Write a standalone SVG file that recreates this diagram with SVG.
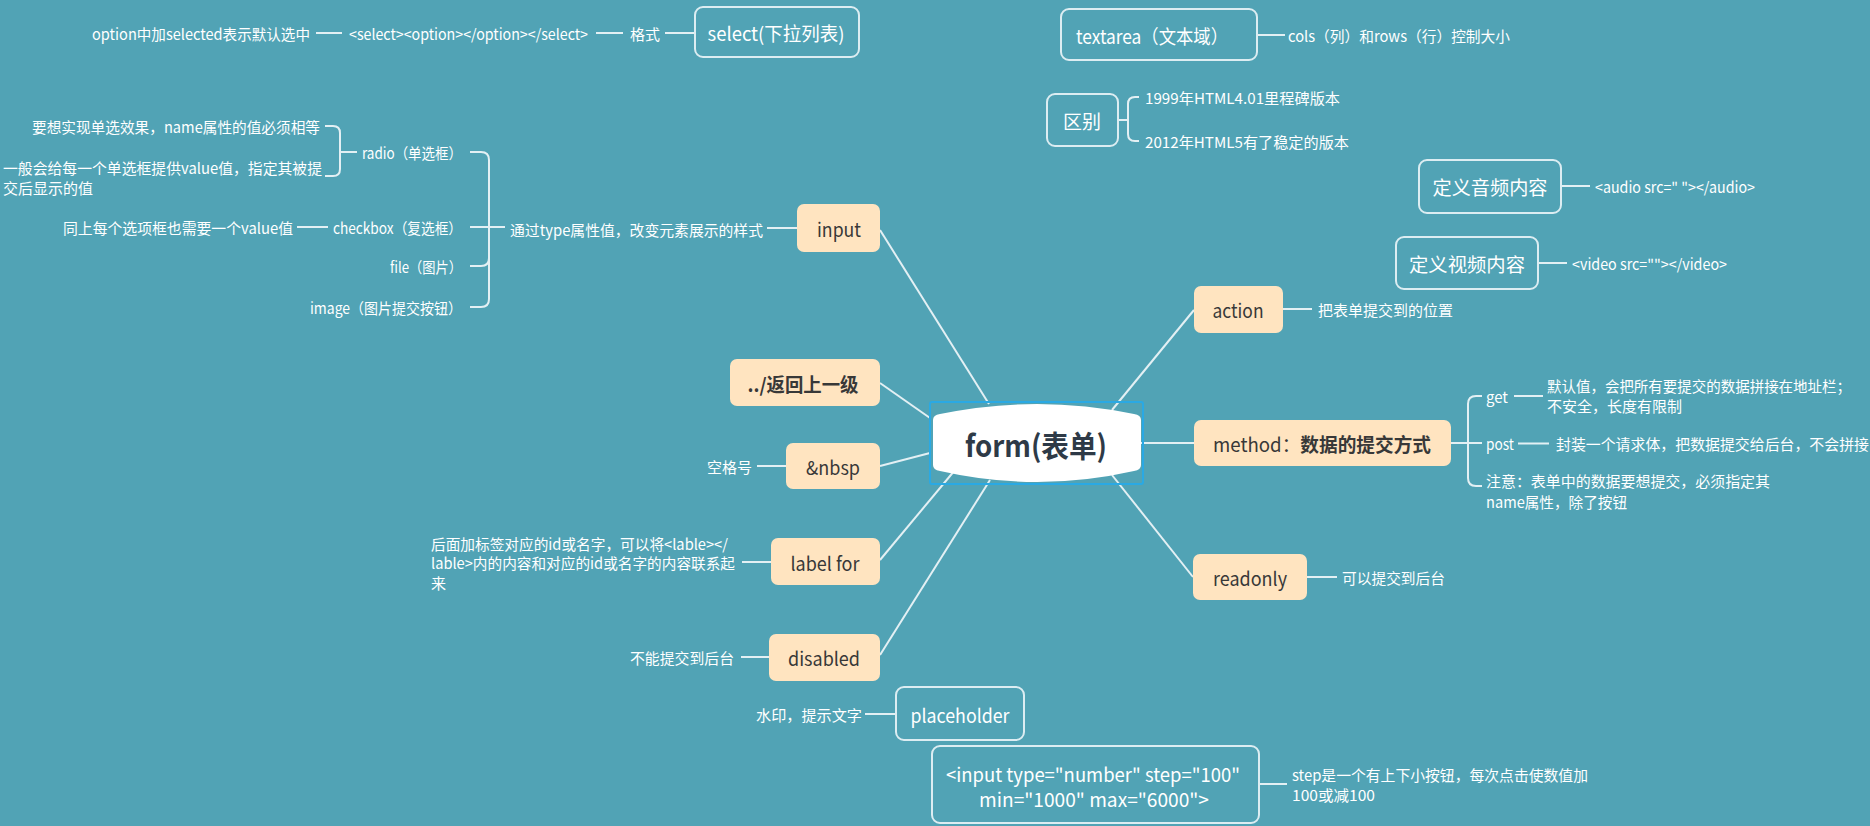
<svg xmlns="http://www.w3.org/2000/svg" width="1870" height="826" viewBox="0 0 1870 826">
<style>
text{font-family:"Noto Sans CJK SC","Noto Sans",sans-serif;dominant-baseline:central}
.lbl{font-size:15px;fill:#ffffff}
.nt{font-size:19px;fill:#383838}
.ot{font-size:19px;fill:#ffffff}
.fb{fill:#ffe4c0}
.ob{fill:none;stroke:#dcedf2;stroke-width:2}
.con{stroke:#e3f0f4;stroke-width:2;fill:none}
</style>
<rect width="1870" height="826" fill="#51a3b5"/>
<g id="connectors" class="con">
<path d="M989,404 L880,230"/>
<path d="M930,418 L880,383"/>
<path d="M930,453 L880,466"/>
<path d="M955,470 L880,560"/>
<path d="M990,480 L880,655"/>
<path d="M1112,410 L1194,310"/>
<path d="M1141,443 L1194,443"/>
<path d="M1112,475 L1193,577"/>
<path d="M316,33 L342,33 M596,33 L623,33 M665,33 L695,33"/>
<path d="M1257,35 L1285,35"/>
<path d="M1118,120 L1128,120 M1139,97 L1135,97 Q1128,97 1128,104 L1128,134 Q1128,141 1135,141 L1139,141"/>
<path d="M1561,186 L1590,186 M1538,263 L1567,263"/>
<path d="M1283,309 L1312,309"/>
<path d="M1451,443 L1468,443 M1482,396 L1476,396 Q1468,396 1468,404 L1468,478 Q1468,486 1476,486 L1482,486 M1468,443 L1482,443"/>
<path d="M1514,396 L1543,396"/>
<line x1="1518" y1="443.5" x2="1549" y2="443.5"/>
<path d="M1307,577 L1337,577"/>
<path d="M1259,784 L1287,784"/>
<path d="M742,562 L771,562 M741,657 L769,657 M865,714 L896,714 M757,466 L786,466"/>
<path d="M767,228 L797,228"/>
<path d="M470,152 L481,152 Q489,152 489,160 L489,299 Q489,307 481,307 L470,307 M470,227 L505,227 M470,266 L481,266 Q489,266 489,258"/>
<path d="M297,227 L328,227"/>
<path d="M325,126 L333,126 Q340,126 340,133 L340,169 Q340,176 333,176 L325,176 M340,152 L357,152"/>
</g>
<g id="form">
<rect x="930" y="402" width="213" height="82" rx="2" fill="none" stroke="#2aa9e4" stroke-width="2"/>
<path d="M933,420 Q933,415 940,414 Q1037,394 1134,414 Q1141,415 1141,420 L1141,465 Q1141,470 1134,471 Q1037,493 940,471 Q933,470 933,465 Z" fill="#ffffff"/>
<text x="1036" y="444" text-anchor="middle" font-size="30" font-weight="bold" fill="#2e3a47" textLength="142" lengthAdjust="spacingAndGlyphs">form(表单)</text>
</g>
<g id="select">
<rect class="ob" x="695" y="7" width="164" height="50" rx="8"/>
<text class="ot" x="776" y="32" text-anchor="middle" textLength="137" lengthAdjust="spacingAndGlyphs">select(下拉列表)</text>
<text class="lbl" x="630" y="33" textLength="30" lengthAdjust="spacingAndGlyphs">格式</text>
<text class="lbl" x="349" y="33" textLength="239" lengthAdjust="spacingAndGlyphs">&lt;select&gt;&lt;option&gt;&lt;/option&gt;&lt;/select&gt;</text>
<text class="lbl" x="92" y="33" textLength="218" lengthAdjust="spacingAndGlyphs">option中加selected表示默认选中</text>
</g>
<g id="textarea">
<rect class="ob" x="1061" y="9" width="196" height="51" rx="8"/>
<text class="ot" x="1152" y="35" text-anchor="middle" textLength="152" lengthAdjust="spacingAndGlyphs">textarea（文本域）</text>
<text class="lbl" x="1288" y="35" textLength="222" lengthAdjust="spacingAndGlyphs">cols（列）和rows（行）控制大小</text>
</g>
<g id="diff">
<rect class="ob" x="1047" y="94" width="71" height="52" rx="8"/>
<text class="ot" x="1082" y="120" text-anchor="middle">区别</text>
<text class="lbl" x="1145" y="97" textLength="195" lengthAdjust="spacingAndGlyphs">1999年HTML4.01里程碑版本</text>
<text class="lbl" x="1145" y="141" textLength="204" lengthAdjust="spacingAndGlyphs">2012年HTML5有了稳定的版本</text>
</g>
<g id="audio">
<rect class="ob" x="1419" y="160" width="142" height="53" rx="8"/>
<text class="ot" x="1490" y="186" text-anchor="middle" textLength="115" lengthAdjust="spacingAndGlyphs">定义音频内容</text>
<text class="lbl" x="1595" y="186" textLength="160" lengthAdjust="spacingAndGlyphs">&lt;audio src=" "&gt;&lt;/audio&gt;</text>
</g>
<g id="video">
<rect class="ob" x="1396" y="237" width="142" height="52" rx="8"/>
<text class="ot" x="1467" y="263" text-anchor="middle" textLength="116" lengthAdjust="spacingAndGlyphs">定义视频内容</text>
<text class="lbl" x="1572" y="263" textLength="155" lengthAdjust="spacingAndGlyphs">&lt;video src=""&gt;&lt;/video&gt;</text>
</g>
<g id="input">
<rect class="fb" x="797" y="204" width="83" height="48" rx="7"/>
<text class="nt" x="839" y="228" text-anchor="middle" textLength="44" lengthAdjust="spacingAndGlyphs">input</text>
<text class="lbl" x="510" y="229" textLength="253" lengthAdjust="spacingAndGlyphs">通过type属性值，改变元素展示的样式</text>
<text class="lbl" x="362" y="152" textLength="100" lengthAdjust="spacingAndGlyphs">radio（单选框）</text>
<text class="lbl" x="333" y="227" textLength="129" lengthAdjust="spacingAndGlyphs">checkbox（复选框）</text>
<text class="lbl" x="390" y="266" textLength="72" lengthAdjust="spacingAndGlyphs">file（图片）</text>
<text class="lbl" x="310" y="307" textLength="152" lengthAdjust="spacingAndGlyphs">image（图片提交按钮）</text>
<text class="lbl" x="32" y="126" textLength="288" lengthAdjust="spacingAndGlyphs">要想实现单选效果，name属性的值必须相等</text>
<text class="lbl" x="3" y="167" textLength="319" lengthAdjust="spacingAndGlyphs">一般会给每一个单选框提供value值，指定其被提</text>
<text class="lbl" x="3" y="187" textLength="90" lengthAdjust="spacingAndGlyphs">交后显示的值</text>
<text class="lbl" x="63" y="227" textLength="230" lengthAdjust="spacingAndGlyphs">同上每个选项框也需要一个value值</text>
</g>
<g id="back">
<rect class="fb" x="730" y="359" width="150" height="47" rx="7"/>
<text class="nt" x="803" y="383" text-anchor="middle" font-weight="bold" textLength="111" lengthAdjust="spacingAndGlyphs">../返回上一级</text>
</g>
<g id="nbsp">
<rect class="fb" x="786" y="443" width="94" height="46" rx="7"/>
<text class="nt" x="833" y="466" text-anchor="middle" textLength="54" lengthAdjust="spacingAndGlyphs">&amp;nbsp</text>
<text class="lbl" x="707" y="466" textLength="45" lengthAdjust="spacingAndGlyphs">空格号</text>
</g>
<g id="labelfor">
<rect class="fb" x="771" y="538" width="109" height="47" rx="7"/>
<text class="nt" x="825" y="562" text-anchor="middle" textLength="69" lengthAdjust="spacingAndGlyphs">label for</text>
<text class="lbl" x="431" y="543" textLength="297" lengthAdjust="spacingAndGlyphs">后面加标签对应的id或名字，可以将&lt;lable&gt;&lt;/</text>
<text class="lbl" x="431" y="562" textLength="304" lengthAdjust="spacingAndGlyphs">lable&gt;内的内容和对应的id或名字的内容联系起</text>
<text class="lbl" x="431" y="582">来</text>
</g>
<g id="disabled">
<rect class="fb" x="769" y="634" width="111" height="47" rx="7"/>
<text class="nt" x="824" y="657" text-anchor="middle" textLength="72" lengthAdjust="spacingAndGlyphs">disabled</text>
<text class="lbl" x="630" y="657" textLength="104" lengthAdjust="spacingAndGlyphs">不能提交到后台</text>
</g>
<g id="placeholder">
<rect class="ob" x="896" y="687" width="128" height="53" rx="8"/>
<text class="ot" x="960" y="714" text-anchor="middle" textLength="99" lengthAdjust="spacingAndGlyphs">placeholder</text>
<text class="lbl" x="756" y="714" textLength="106" lengthAdjust="spacingAndGlyphs">水印，提示文字</text>
</g>
<g id="number">
<rect class="ob" x="932" y="746" width="327" height="77" rx="8"/>
<text class="ot" x="1093" y="773" text-anchor="middle" textLength="294" lengthAdjust="spacingAndGlyphs">&lt;input type="number" step="100"</text>
<text class="ot" x="1094" y="798" text-anchor="middle" textLength="230" lengthAdjust="spacingAndGlyphs">min="1000" max="6000"&gt;</text>
<text class="lbl" x="1292" y="774" textLength="296" lengthAdjust="spacingAndGlyphs">step是一个有上下小按钮，每次点击使数值加</text>
<text class="lbl" x="1292" y="794" textLength="83" lengthAdjust="spacingAndGlyphs">100或减100</text>
</g>
<g id="action">
<rect class="fb" x="1194" y="286" width="89" height="47" rx="7"/>
<text class="nt" x="1238" y="309" text-anchor="middle" textLength="51" lengthAdjust="spacingAndGlyphs">action</text>
<text class="lbl" x="1318" y="309" textLength="135" lengthAdjust="spacingAndGlyphs">把表单提交到的位置</text>
</g>
<g id="method">
<rect class="fb" x="1194" y="420" width="257" height="46" rx="7"/>
<text class="nt" x="1213" y="443" textLength="218" lengthAdjust="spacingAndGlyphs">method：<tspan font-weight="bold">数据的提交方式</tspan></text>
<text class="lbl" x="1486" y="396" textLength="22" lengthAdjust="spacingAndGlyphs">get</text>
<text class="lbl" x="1547" y="385" textLength="304" lengthAdjust="spacingAndGlyphs">默认值，会把所有要提交的数据拼接在地址栏；</text>
<text class="lbl" x="1547" y="405" textLength="135" lengthAdjust="spacingAndGlyphs">不安全，长度有限制</text>
<text class="lbl" x="1486" y="443" textLength="28" lengthAdjust="spacingAndGlyphs">post</text>
<text class="lbl" x="1556" y="443" textLength="313" lengthAdjust="spacingAndGlyphs">封装一个请求体，把数据提交给后台，不会拼接</text>
<text class="lbl" x="1486" y="480" textLength="284" lengthAdjust="spacingAndGlyphs">注意：表单中的数据要想提交，必须指定其</text>
<text class="lbl" x="1486" y="501" textLength="141" lengthAdjust="spacingAndGlyphs">name属性，除了按钮</text>
</g>
<g id="readonly">
<rect class="fb" x="1193" y="554" width="114" height="46" rx="7"/>
<text class="nt" x="1250" y="577" text-anchor="middle" textLength="74" lengthAdjust="spacingAndGlyphs">readonly</text>
<text class="lbl" x="1342" y="577" textLength="103" lengthAdjust="spacingAndGlyphs">可以提交到后台</text>
</g>
</svg>
